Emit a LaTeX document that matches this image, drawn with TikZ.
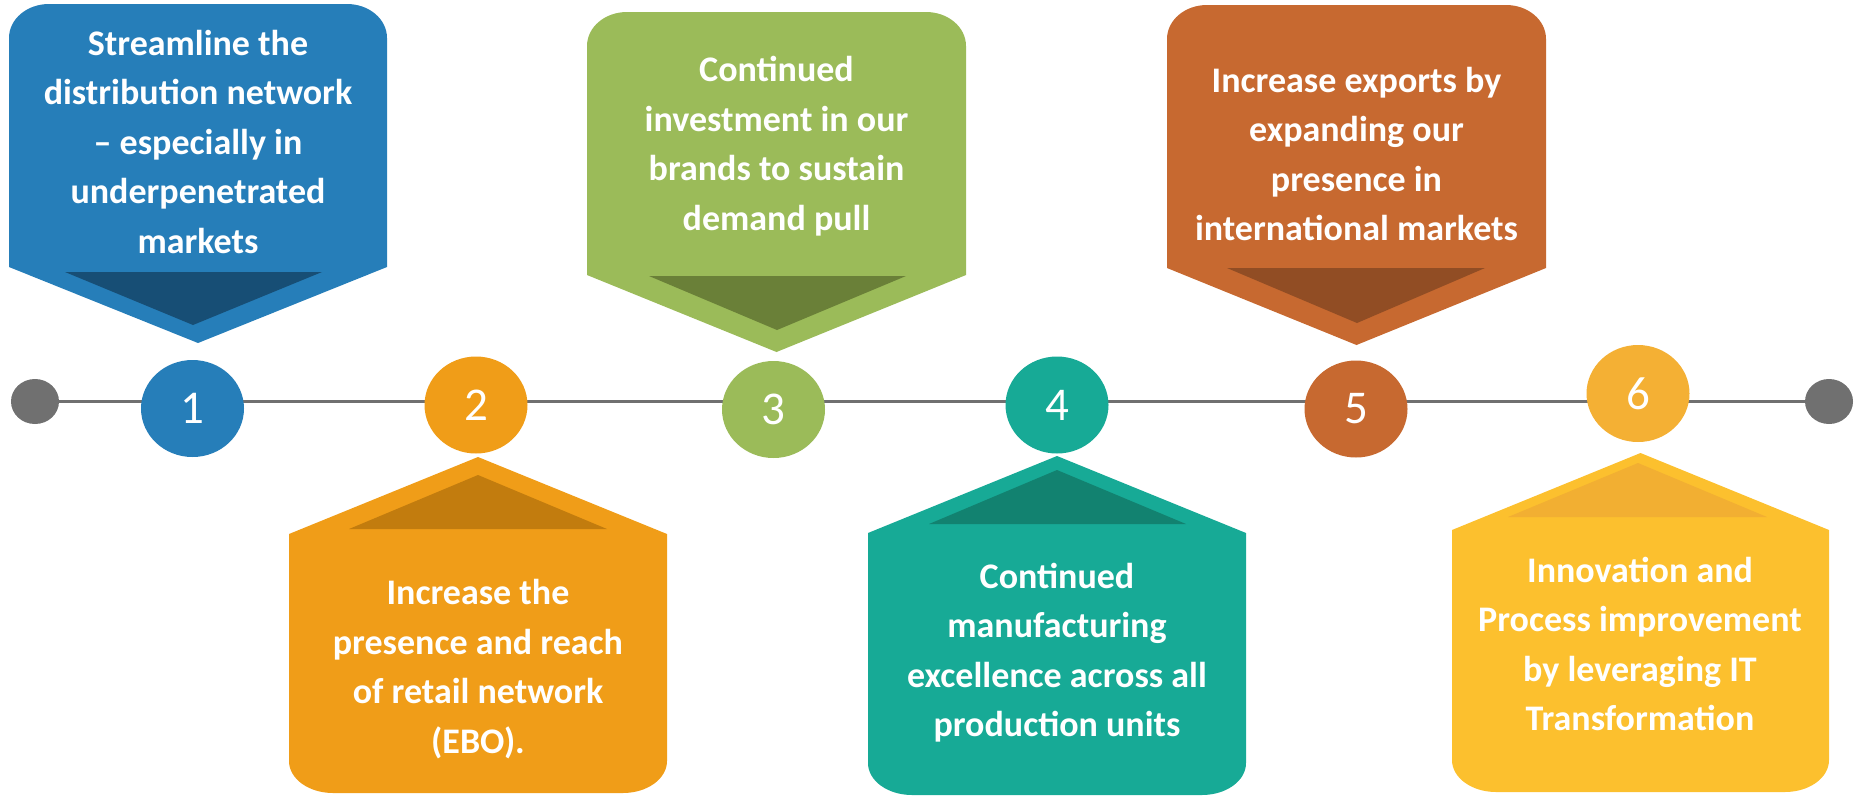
\documentclass[tikz,border=0pt]{standalone}
\usepackage{fontspec}
\setmainfont{Carlito}
\usetikzlibrary{shapes.geometric}
\definecolor{cBlue}{HTML}{267EB9}
\definecolor{dBlue}{HTML}{174E75}
\definecolor{cOrange}{HTML}{F09D18}
\definecolor{dOrange}{HTML}{C27C0E}
\definecolor{cGreen}{HTML}{9BBB59}
\definecolor{dGreen}{HTML}{6A8038}
\definecolor{cTeal}{HTML}{17AA96}
\definecolor{dTeal}{HTML}{128270}
\definecolor{cRust}{HTML}{C76930}
\definecolor{dRust}{HTML}{914D24}
\definecolor{cYellow}{HTML}{FCC02E}
\definecolor{cYellowDot}{HTML}{F4B034}
\definecolor{dYellow}{HTML}{F2AF32}
\definecolor{lineGray}{HTML}{707070}
\newcommand\downbox[6]{% L R top side apex colour
  \fill[#6] (#1,#4) -- (#1,#3+34) .. controls (#1,#3+15) and (#1+18,#3) .. (#1+40,#3) -- (#2-40,#3)
    .. controls (#2-18,#3) and (#2,#3+15) .. (#2,#3+34) -- (#2,#4) -- ({(#1+#2)/2},#5) -- cycle;}
\newcommand\upbox[6]{% L R apex side bottom colour
  \fill[#6] ({(#1+#2)/2},#3) -- (#2,#4) -- (#2,#5-32) .. controls (#2,#5-14) and (#2-20,#5) .. (#2-44,#5)
    -- (#1+44,#5) .. controls (#1+20,#5) and (#1,#5-14) .. (#1,#5-32) -- (#1,#4) -- cycle;}
\begin{document}
\begin{tikzpicture}[x=1pt,y=-1pt,
  txt/.style={text=white, font=\fontsize{36}{49.5}\selectfont\bfseries, align=center, inner sep=0pt},
  num/.style={ellipse, minimum width=103pt, minimum height=97pt, inner sep=0pt, text=white,
    font=\fontsize{47}{47}\selectfont},
  dot/.style={ellipse, fill=lineGray, minimum width=48pt, minimum height=45pt, inner sep=0pt},
  tline/.style={draw=lineGray, line width=3.5pt}]
\useasboundingbox (0,0) rectangle (1855,796);

% top boxes
\downbox{9}{387}{4}{267}{343}{cBlue}
\fill[dBlue] (65,272) -- (322,272) -- (193,325) -- cycle;
\downbox{587}{966}{12}{275}{352}{cGreen}
\fill[dGreen] (649,276) -- (906,276) -- (777,330) -- cycle;
\downbox{1167}{1546}{5}{268}{345}{cRust}
\fill[dRust] (1227,268) -- (1485,268) -- (1357,323) -- cycle;

% bottom boxes
\upbox{289}{667}{457}{534}{793}{cOrange}
\fill[dOrange] (349,529) -- (607,529) -- (478,475) -- cycle;
\upbox{868}{1246}{456}{533}{795}{cTeal}
\fill[dTeal] (929,524) -- (1186,524) -- (1057,470) -- cycle;
\upbox{1452}{1829}{453}{530}{792}{cYellow}
\fill[dYellow] (1508,517) -- (1767,517) -- (1638,463) -- cycle;

% timeline
\node[dot] (d0) at (35,401.5) {};
\node[dot] (d7) at (1829,401.5) {};
\draw[tline] (d0) -- (d7);

\node[num, fill=cBlue]      (c1) at (192.5,408.5) {1};
\node[num, fill=cOrange]    (c2) at (476,405) {2};
\node[num, fill=cGreen]     (c3) at (773.5,409.5) {3};
\node[num, fill=cTeal]      (c4) at (1057,405) {4};
\node[num, fill=cRust]      (c5) at (1356,409) {5};
\node[num, fill=cYellowDot] (c6) at (1638,393.5) {6};

% texts
\node[txt] (t1) at (198,141.5) {Streamline the\\distribution network\\– especially in\\underpenetrated\\markets};
\node[txt] (t2) at (478,669) {Increase the\\presence and reach\\of retail network\\(EBO).};
\node[txt] (t3) at (776.5,146) {Continued\\investment in our\\brands to sustain\\demand pull};
\node[txt] (t4) at (1057,652.5) {Continued\\manufacturing\\excellence across all\\production units};
\node[txt] (t5) at (1356.5,154) {Increase exports by\\expanding our\\presence in\\international markets};
\node[txt] (t6) at (1640,644) {Innovation and\\Process improvement\\by leveraging IT\\Transformation};
\end{tikzpicture}
\end{document}
